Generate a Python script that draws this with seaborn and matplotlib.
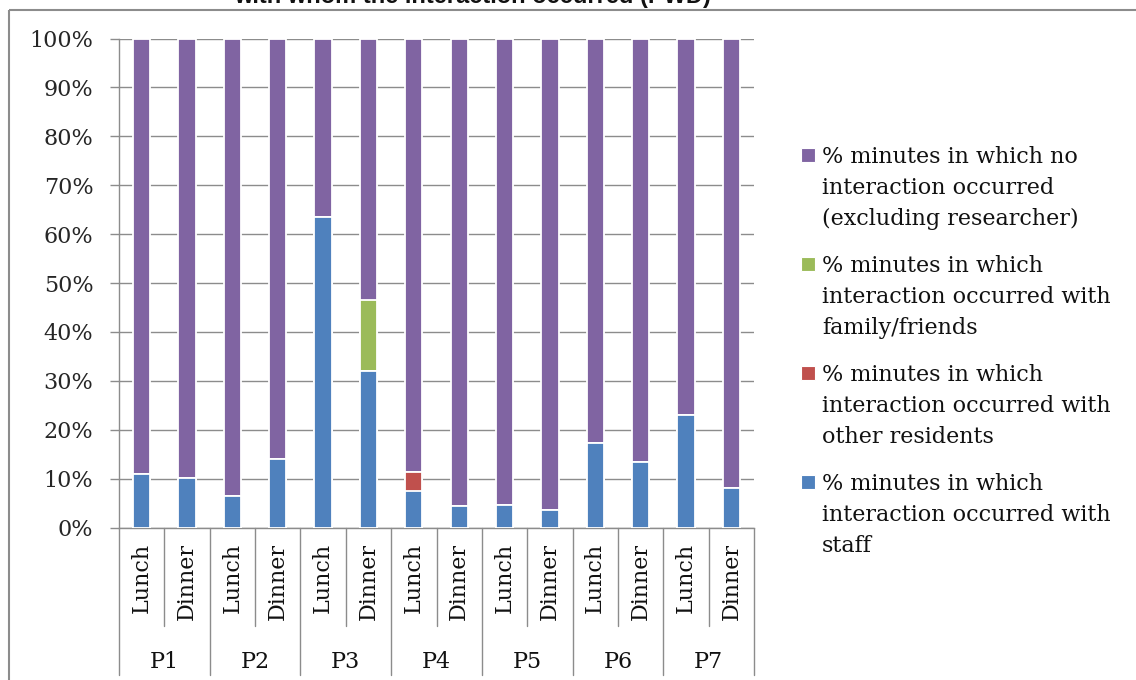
import numpy as np
import pandas as pd
import matplotlib
matplotlib.use("Agg")
import matplotlib.pyplot as plt
import matplotlib.transforms as mtransforms
from matplotlib.lines import Line2D
from matplotlib.patches import Rectangle
from matplotlib.ticker import PercentFormatter
import seaborn as sns

# ---------------- data ----------------
participants = ["P1", "P2", "P3", "P4", "P5", "P6", "P7"]
meals = ["Lunch", "Dinner"]
staff = [10.9, 10.1, 6.4, 14.0, 63.5, 32.0, 7.4, 4.3, 4.5, 3.5, 17.2, 13.3, 23.0, 8.1]
other_residents = [0, 0, 0, 0, 0, 0, 3.9, 0, 0, 0, 0, 0, 0, 0]
family_friends = [0, 0, 0, 0, 0, 14.5, 0, 0, 0, 0, 0, 0, 0, 0]
no_interaction = [100 - s - r - f for s, r, f in zip(staff, other_residents, family_friends)]

legend_labels = [
    ["% minutes in which no", "interaction occurred", "(excluding researcher)"],
    ["% minutes in which", "interaction occurred with", "family/friends"],
    ["% minutes in which", "interaction occurred with", "other residents"],
    ["% minutes in which", "interaction occurred with", "staff"],
]
title = "with whom the interaction occurred (PWD)"

# ---------------- table ----------------
slots = [f"{p} {m}" for p in participants for m in meals]
df = pd.DataFrame({
    "slot": slots,
    "staff": np.array(staff) / 100,
    "res": np.array(other_residents) / 100,
    "fam": np.array(family_friends) / 100,
    "none": np.array(no_interaction) / 100,
})
df["c_staff"] = df["staff"]
df["c_res"] = df["staff"] + df["res"]
df["c_fam"] = df["c_res"] + df["fam"]
df["c_none"] = df["c_fam"] + df["none"]

PURPLE, GREEN, RED, BLUE = "#8064A2", "#9BBB59", "#C0504D", "#4F81BD"
GRAY = "#8c8c8c"

sns.set_style("white")
plt.rcParams["font.family"] = ["DejaVu Serif"]

W, H = 1136, 680
fig = plt.figure(figsize=(W / 100, H / 100), dpi=100)
ax = fig.add_axes([119 / W, 1 - 527.5 / H, (754 - 119) / W, (527.5 - 38.5) / H])

bw = 0.38
for col, c in [("c_none", PURPLE), ("c_fam", GREEN), ("c_res", RED), ("c_staff", BLUE)]:
    sns.barplot(data=df, x="slot", y=col, order=slots, color=c, width=bw,
                saturation=1, edgecolor="white", linewidth=1.3, errorbar=None,
                ax=ax, zorder=3)

ax.set_xlim(-0.5, len(slots) - 0.5)
ax.set_ylim(0, 1)
ax.set_yticks(np.arange(0, 1.01, 0.1))
ax.yaxis.set_major_formatter(PercentFormatter(1.0, decimals=0))
ax.set_xticks([])
ax.set_xlabel("")
ax.set_ylabel("")
ax.grid(axis="y", color=GRAY, linewidth=1.0)
ax.set_axisbelow(True)
for s in ["top", "right"]:
    ax.spines[s].set_visible(False)
for s in ["left", "bottom"]:
    ax.spines[s].set_color(GRAY)
    ax.spines[s].set_linewidth(1.0)
ax.tick_params(axis="y", which="major", length=6.5, width=1.0, color=GRAY,
               pad=12, labelsize=16, left=True)

# category axis: meal labels, participant labels, separators
trans = mtransforms.blended_transform_factory(ax.transData, ax.transAxes)
for i, s in enumerate(slots):
    meal = s.split(" ")[1]
    ax.text(i, -0.032, meal, rotation=90, ha="center", va="top", fontsize=16,
            transform=trans, color="#111111")
for j, p in enumerate(participants):
    ax.text(2 * j + 0.5, -0.2744, p, ha="center", va="center", fontsize=16,
            transform=trans, color="#111111")
for k in range(len(slots) + 1):
    x = k - 0.5
    y_end = -0.3016 if k % 2 == 0 else -0.2014
    ax.add_line(Line2D([x, x], [0, y_end], transform=trans, color=GRAY,
                       linewidth=1.0, clip_on=False))

# legend (manual, Excel style: square aligned with first line)
colors = [PURPLE, GREEN, RED, BLUE]
first_baselines = [163, 272, 381, 490]
for lines, c, b in zip(legend_labels, colors, first_baselines):
    fig.patches.append(Rectangle((801 / W, 1 - (b - 1) / H), 14 / W, 14 / H,
                                 transform=fig.transFigure, facecolor=c,
                                 edgecolor="white", linewidth=0.8))
    for li, t in enumerate(lines):
        fig.text(822 / W, 1 - (b + 31 * li) / H, t, ha="left", va="baseline",
                 fontsize=16, color="#111111")

# outer frame lines and clipped title (cut off at the top edge, as in the source)
fig.add_artist(Line2D([9 / W, 9 / W], [0, 1 - 9.5 / H], transform=fig.transFigure,
                      color=GRAY, linewidth=1.5, solid_capstyle="butt"))
fig.add_artist(Line2D([9 / W, 1.01], [1 - 9.5 / H, 1 - 9.5 / H], transform=fig.transFigure,
                      color=GRAY, linewidth=1.5, solid_capstyle="butt"))
fig.text(472 / W, 1 - 3 / H, title, ha="center", va="baseline", fontsize=17,
         fontweight="bold", family=["Liberation Sans", "DejaVu Sans"], color="#111111")

fig.savefig("out.png", dpi=100, facecolor="white")
